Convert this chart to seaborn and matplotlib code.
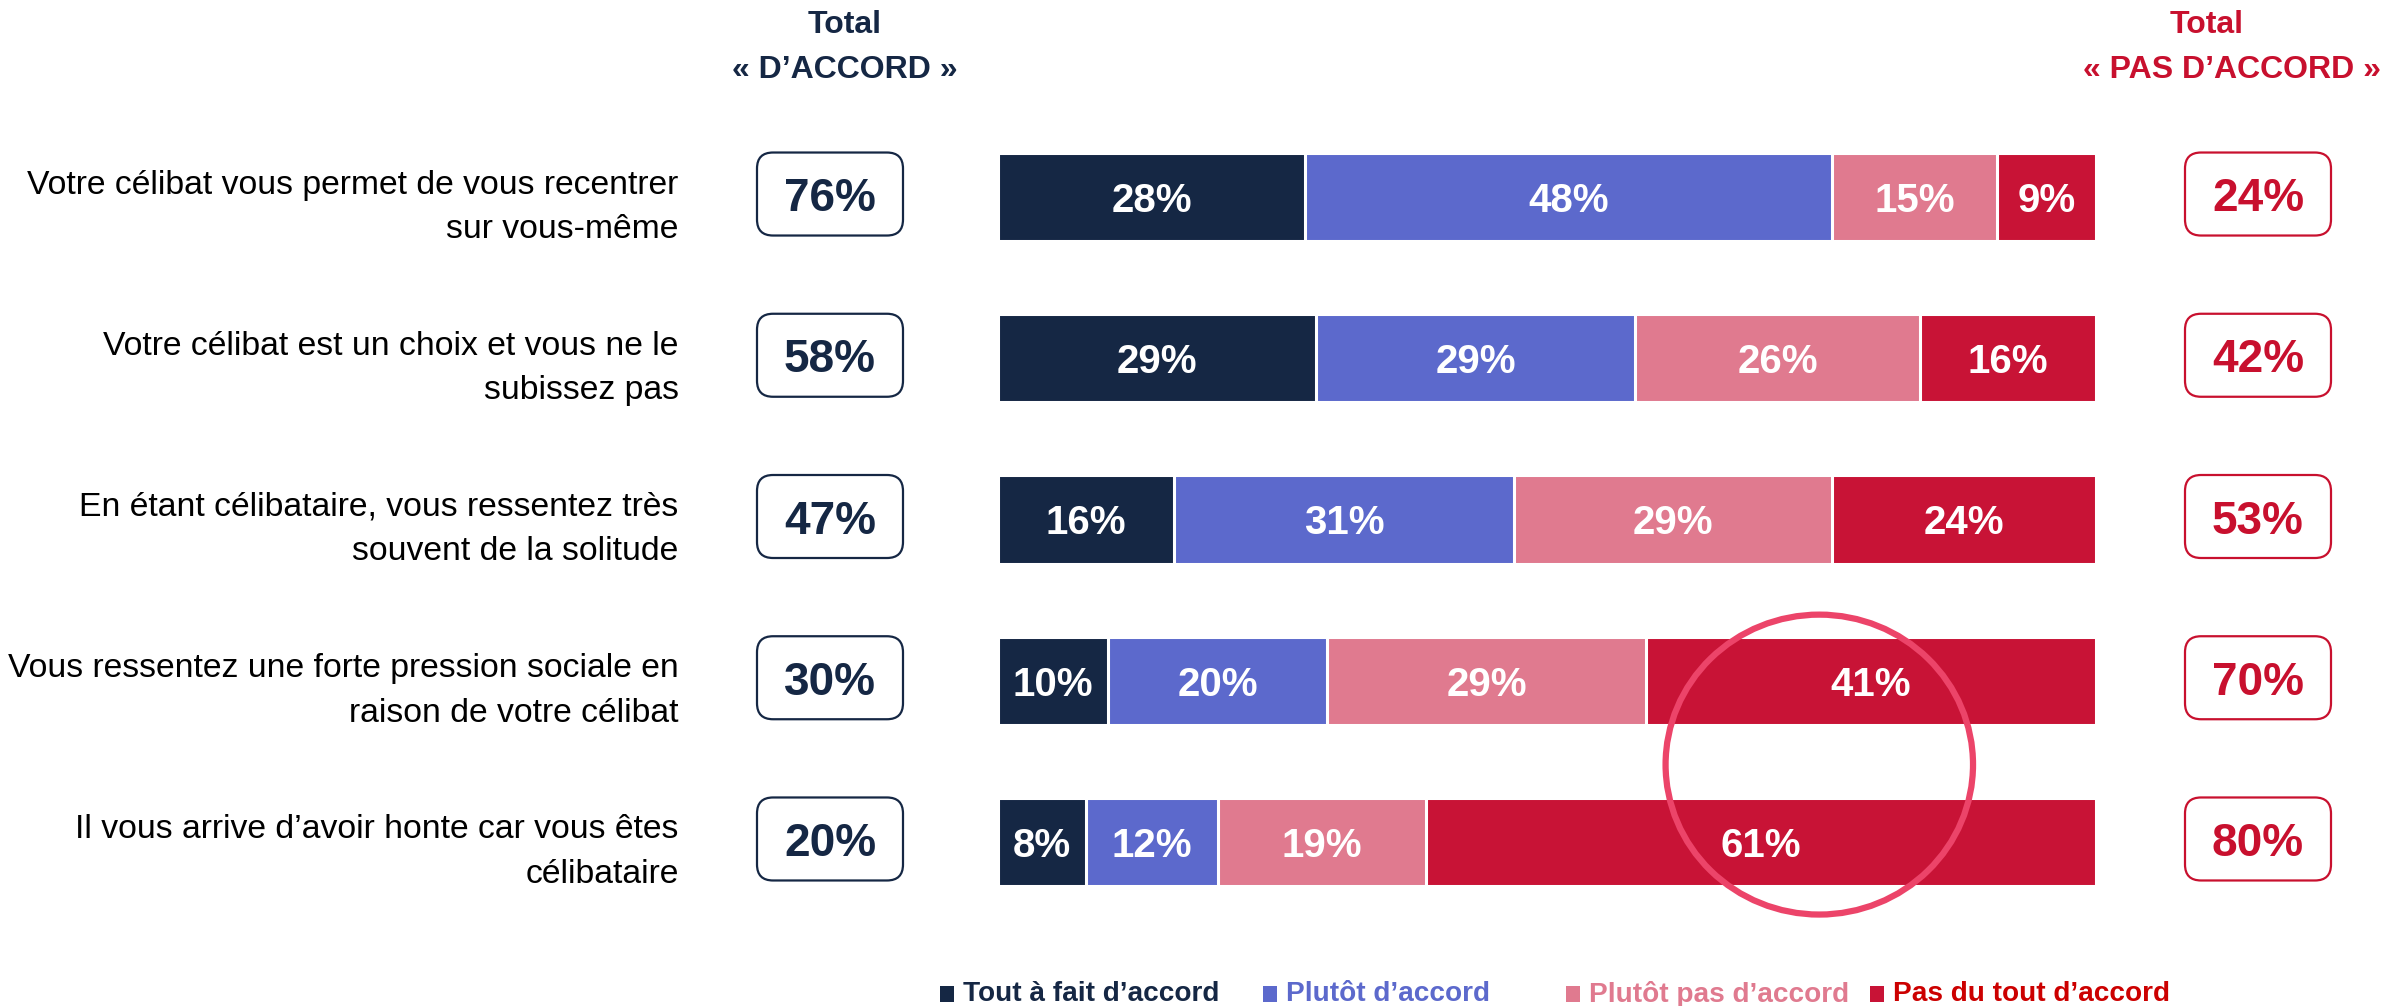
import numpy as np
import pandas as pd
import matplotlib
matplotlib.use("Agg")
import matplotlib.pyplot as plt
import seaborn as sns
from matplotlib.patches import FancyBboxPatch, Ellipse, Rectangle
from matplotlib.transforms import IdentityTransform

# ---------------- data ----------------
questions = [
    "Votre célibat vous permet de vous recentrer\nsur vous-même",
    "Votre célibat est un choix et vous ne le\nsubissez pas",
    "En étant célibataire, vous ressentez très\nsouvent de la solitude",
    "Vous ressentez une forte pression sociale en\nraison de votre célibat",
    "Il vous arrive d’avoir honte car vous êtes\ncélibataire",
]
tout_a_fait = [28, 29, 16, 10, 8]
plutot = [48, 29, 31, 20, 12]
plutot_pas = [15, 26, 29, 29, 19]
pas_du_tout = [9, 16, 24, 41, 61]
total_accord = [76, 58, 47, 30, 20]
total_pas_accord = [24, 42, 53, 70, 80]
series_names = ["Tout à fait d’accord", "Plutôt d’accord",
                "Plutôt pas d’accord", "Pas du tout d’accord"]

# ---------------- style ----------------
colors = ["#152744", "#5C69CC", "#E07A8F", "#C81336"]
legend_text_colors = ["#152744", "#5C69CC", "#E07A8F", "#CC0000"]
NAVY = "#152744"
RED = "#C8102E"

sns.set_theme(style="white")
plt.rcParams["font.family"] = ["Liberation Sans", "DejaVu Sans"]

W, H = 2389, 1006
fig = plt.figure(figsize=(W / 100, H / 100), dpi=100)
ax = fig.add_axes([998 / W, 1 - 922.6 / H, 1098 / W, 806.2 / H])

segments = [tout_a_fait, plutot, plutot_pas, pas_du_tout]
cum = np.cumsum(np.array(segments), axis=0)

df = pd.DataFrame({"question": questions})
for k in range(3, -1, -1):
    df["v"] = cum[k]
    sns.barplot(data=df, x="v", y="question", orient="h", color=colors[k],
                width=0.546, edgecolor="white", linewidth=2.2, saturation=1,
                errorbar=None, ax=ax)

ax.set_xlim(0, 100)
ax.set_ylim(4.5, -0.5)
ax.set_xlabel("")
ax.set_ylabel("")
ax.set_xticks([])
for s in ax.spines.values():
    s.set_visible(False)
ax.tick_params(axis="y", length=0, pad=230, labelsize=24.3, labelcolor="black")
for lbl in ax.get_yticklabels():
    lbl.set_linespacing(1.56)

# segment labels
for k in range(4):
    for i in range(5):
        v = segments[k][i]
        mid = cum[k][i] - v / 2
        ax.text(mid, i, f"{v}%", ha="center", va="center_baseline",
                color="white", fontsize=29, fontweight="bold", zorder=5)

# highlight ellipse
ax.add_patch(Ellipse((74.8, 3.52), 28, 1.86, fill=False, edgecolor="#EC4469",
                     lw=4.5, zorder=10, clip_on=False))

# total boxes
ident = IdentityTransform()
for i in range(5):
    yd = ax.transData.transform((0, i))[1] + 3
    for cx, val, col in [(830, total_accord[i], NAVY), (2258, total_pas_accord[i], RED)]:
        bw, bh = 146, 83
        box = FancyBboxPatch((cx - bw / 2, yd - bh / 2), bw, bh,
                             boxstyle="round,pad=0,rounding_size=16",
                             transform=ident, facecolor="white", edgecolor=col,
                             lw=1.6)
        fig.add_artist(box)
        fig.text(cx, yd, f"{val}%", transform=ident, ha="center",
                 va="center_baseline", fontsize=33, fontweight="bold", color=col)

# headers
fig.text(845, H - 25, "Total", transform=ident, ha="center", va="center",
         fontsize=23, fontweight="bold", color=NAVY)
fig.text(845, H - 70, "« D’ACCORD »", transform=ident, ha="center", va="center",
         fontsize=23, fontweight="bold", color=NAVY)
fig.text(2207, H - 25, "Total", transform=ident, ha="center", va="center",
         fontsize=23, fontweight="bold", color=RED)
fig.text(2232, H - 70, "« PAS D’ACCORD »", transform=ident, ha="center", va="center",
         fontsize=23, fontweight="bold", color=RED)

# legend
leg_x = [940, 1263, 1566, 1870]
leg_y = H - 994
for x, name, c, tc in zip(leg_x, series_names, colors, legend_text_colors):
    fig.add_artist(Rectangle((x, leg_y - 8), 14, 16, transform=ident,
                             facecolor=c, edgecolor="none"))
    fig.text(x + 23, leg_y, name, transform=ident, ha="left", va="center",
             fontsize=20.2, fontweight="bold", color=tc)

fig.savefig("out.png", dpi=100)
